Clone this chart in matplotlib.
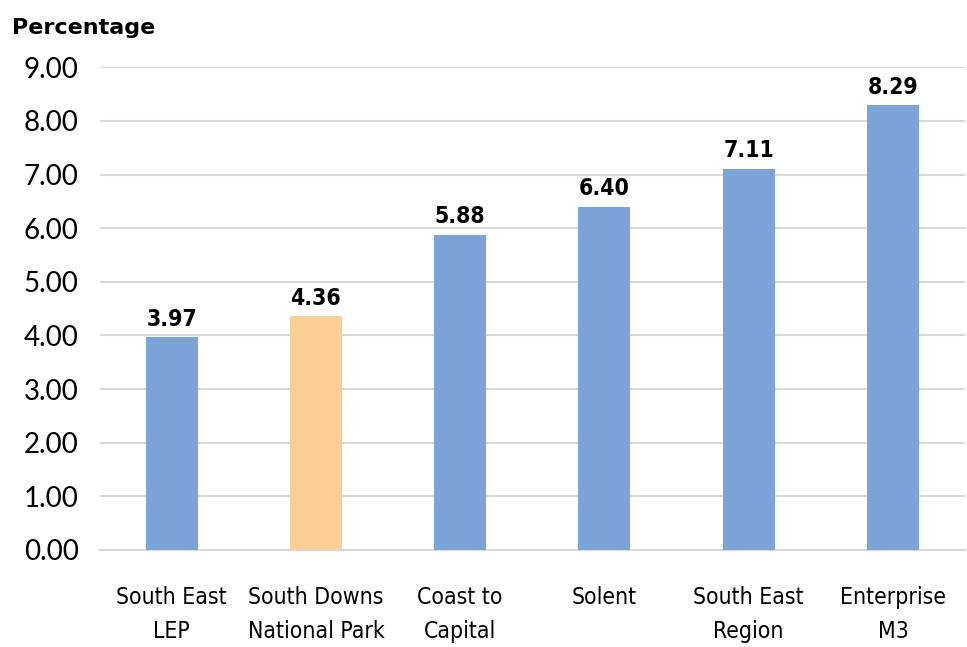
import matplotlib.pyplot as plt
from matplotlib import font_manager

categories = ["South East\nLEP", "South Downs\nNational Park", "Coast to\nCapital",
              "Solent", "South East\nRegion", "Enterprise\nM3"]
values = [3.97, 4.36, 5.88, 6.40, 7.11, 8.29]
colors = ["#7BA3D6", "#FBCF96", "#7BA3D6", "#7BA3D6", "#7BA3D6", "#7BA3D6"]
yticks = [0, 1, 2, 3, 4, 5, 6, 7, 8, 9]

# condensed faces for the narrow labels
cond = "/usr/share/fonts/truetype/dejavu/DejaVuSansCondensed.ttf"
cond_bold = "/usr/share/fonts/truetype/dejavu/DejaVuSansCondensed-Bold.ttf"
lab_font = font_manager.FontProperties(fname=cond, size=16.5)
val_font = font_manager.FontProperties(fname=cond_bold, size=16.5)

fig = plt.figure(figsize=(9.67, 6.47), dpi=100)
ax = fig.add_axes([0.103, 0.150, 0.895, 0.746])

ax.bar(range(len(values)), values, width=0.36, color=colors, zorder=3)
for i, v in enumerate(values):
    ax.text(i, v + 0.12, f"{v:.2f}", ha="center", va="bottom",
            fontproperties=val_font, color="black")

ax.set_xlim(-0.5, len(values) - 0.5)
ax.set_ylim(0, 9)
ax.set_yticks(yticks)
ax.set_yticklabels([f"{t:.2f}" for t in yticks], fontsize=20, family="Lato")
ax.set_xticks(range(len(values)))
ax.set_xticklabels(categories, fontproperties=lab_font, linespacing=1.6)
ax.tick_params(axis="both", length=0)
ax.tick_params(axis="x", pad=26)
ax.tick_params(axis="y", pad=15)
ax.grid(axis="y", color="#D9D9D9", linewidth=1.5, zorder=0)
for s in ["top", "right", "left"]:
    ax.spines[s].set_visible(False)
ax.spines["bottom"].set_color("#D9D9D9")
ax.spines["bottom"].set_linewidth(1.5)

fig.text(0.012, 0.957, "Percentage", fontsize=16, fontweight="bold", ha="left", va="center")

fig.savefig("out.png", dpi=100)
